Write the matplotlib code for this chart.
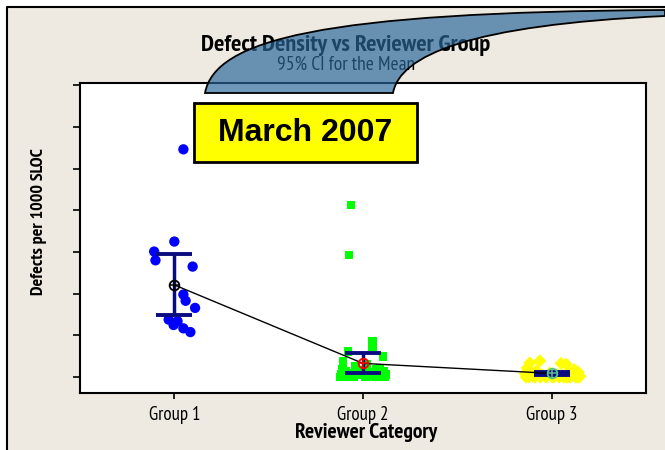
import matplotlib
matplotlib.use("Agg")
import matplotlib.pyplot as plt
from matplotlib.patches import Rectangle, PathPatch
from matplotlib.path import Path

# data (y units = tick steps, ticks unlabeled)
categories = ["Group 1", "Group 2", "Group 3"]

group1_vals = [5.46, 3.25, 3.01, 2.80, 2.65, 1.98, 1.83, 1.66, 1.38, 1.34, 1.25, 1.17, 1.08]
group1_jitter = [0.048, 0.0, -0.107, -0.100, 0.097, 0.048, 0.060, 0.110, -0.030, 0.017, -0.004, 0.048, 0.085]

group2_vals = [4.13, 2.93, 0.87, 0.72, 0.61, 0.49, 0.37, 0.30, 0.27, 0.22, 0.20, 0.18,
               0.16, 0.15, 0.13, 0.12, 0.10, 0.09, 0.08, 0.07, 0.06, 0.05, 0.05, 0.04,
               0.03, 0.03, 0.02, 0.02, 0.01, 0.0, 0.0, 0.0, 0.0, 0.0, 0.0]
group2_jitter = [-0.063, -0.074, 0.050, 0.050, -0.080, 0.106, -0.106, 0.020, -0.040, 0.090,
                 -0.110, 0.070, -0.020, 0.110, -0.090, 0.040, 0.000, -0.060, 0.080, -0.115,
                 0.120, 0.030, -0.030, 0.100, -0.100, 0.060, -0.070, 0.010, 0.115, -0.120,
                 -0.050, 0.020, 0.070, 0.110, -0.090]

group3_vals = [0.39, 0.34, 0.33, 0.31, 0.22, 0.18, 0.15, 0.12, 0.10, 0.09, 0.08, 0.06,
               0.05, 0.05, 0.04, 0.03, 0.02, 0.02, 0.01, 0.0, 0.0, 0.0, 0.0, 0.0,
               0.0, 0.0, 0.0, 0.0, 0.0, 0.0]
group3_jitter = [-0.063, -0.116, 0.050, 0.077, -0.130, 0.120, -0.080, 0.140, -0.010, 0.090,
                 -0.140, 0.030, 0.110, -0.050, 0.060, -0.100, 0.150, 0.000, -0.120, 0.080,
                 -0.030, 0.130, -0.090, 0.040, 0.100, -0.060, 0.010, 0.145, -0.135, 0.065]

means = [2.21, 0.33, 0.09]
ci_low = [1.49, 0.11, 0.04]
ci_high = [2.95, 0.58, 0.12]

W, H = 665, 450
narrow = ["PT Sans Narrow", "DejaVu Sans"]

fig = plt.figure(figsize=(W / 100, H / 100), dpi=100)
fig.patch.set_facecolor("white")

# beige panel + frame behind everything
bg = fig.add_axes([0, 0, 1, 1], zorder=-5)
bg.set_xlim(0, W)
bg.set_ylim(H, 0)
bg.axis("off")
bg.add_patch(Rectangle((7, 7), W, H, facecolor="#EEEAE1", edgecolor="none"))
bg.plot([7, 7, W], [H, 7, 7], color="black", lw=1.5)

ax = fig.add_axes([80 / W, 1 - 393 / H, 566 / W, 310 / H])
ax.set_facecolor("white")
ax.set_xlim(0.5, 3.5)
ax.set_ylim(-0.38, 7.05)
ax.set_yticks(range(8))
ax.set_yticklabels([])
ax.set_xticks([1, 2, 3])
ax.set_xticklabels(categories, family=narrow, fontsize=13.5)
ax.tick_params(axis="y", direction="out", length=5, width=1.2)
ax.tick_params(axis="x", direction="out", length=4, width=1.2, pad=5)
for s in ax.spines.values():
    s.set_linewidth(1.5)

ax.scatter([1 + j for j in group1_jitter], group1_vals, s=55, marker="o",
           color="#0000FF", edgecolors="none", zorder=2)
ax.scatter([2 + j for j in group2_jitter], group2_vals, s=38, marker="s",
           color="#00FF00", edgecolors="none", zorder=2)
ax.scatter([3 + j for j in group3_jitter], group3_vals, s=45, marker="D",
           color="#FFFF00", edgecolors="none", zorder=2)

# CI bars
navy = "#0B0B80"
for i, (lo, hi) in enumerate(zip(ci_low, ci_high)):
    x = i + 1
    ax.plot([x, x], [lo, hi], color=navy, lw=2.5, zorder=3, solid_capstyle="butt")
    ax.plot([x - 0.095, x + 0.095], [lo, lo], color=navy, lw=2.8, zorder=3, solid_capstyle="butt")
    ax.plot([x - 0.095, x + 0.095], [hi, hi], color=navy, lw=2.8, zorder=3, solid_capstyle="butt")

ax.plot([1, 2, 3], means, color="black", lw=1.0, zorder=4)
mean_colors = ["black", "red", "#55C08A"]
for i, m in enumerate(means):
    ax.plot(i + 1, m, marker="o", ms=7, mfc="none", mec=mean_colors[i], mew=1.3, zorder=5)
    ax.plot(i + 1, m, marker="+", ms=7, mec=mean_colors[i], mew=1.1, zorder=5)

fig.text(346 / W, 1 - 45 / H, "Defect Density vs Reviewer Group", ha="center", va="center",
         family=narrow, fontsize=17.5, fontweight="bold")
fig.text(346 / W, 1 - 65 / H, "95% CI for the Mean", ha="center", va="center",
         family=narrow, fontsize=14)
fig.text(366 / W, 1 - 432 / H, "Reviewer Category", ha="center", va="center",
         family=narrow, fontsize=15.5, fontweight="bold")
fig.text(39 / W, 1 - 222 / H, "Defects per 1000 SLOC", ha="center", va="center",
         rotation=90, family=narrow, fontsize=13, fontweight="bold")

# overlays: swoosh and date box
fr = fig.add_axes([0, 0, 1, 1], zorder=5)
fr.set_xlim(0, W)
fr.set_ylim(H, 0)
fr.axis("off")
fr.patch.set_alpha(0)

verts = [(205, 93), (215, 40), (320, 12), (665, 10),
         (665, 16),
         (470, 25), (400, 55), (393, 93),
         (205, 93)]
codes = [Path.MOVETO, Path.CURVE4, Path.CURVE4, Path.CURVE4,
         Path.LINETO,
         Path.CURVE4, Path.CURVE4, Path.CURVE4,
         Path.CLOSEPOLY]
fr.add_patch(PathPatch(Path(verts, codes), facecolor="#296699", alpha=0.68,
                       edgecolor="none"))
fr.add_patch(PathPatch(Path(verts, codes), facecolor="none", edgecolor="black", lw=1.3))

fr.add_patch(Rectangle((194, 103), 223, 59, facecolor="#FFFF00", edgecolor="black", lw=2))
fr.text(305, 133, "March 2007", ha="center", va="center", fontsize=23,
        fontweight="bold", family="Liberation Sans")

fig.savefig("out.png", dpi=100)
